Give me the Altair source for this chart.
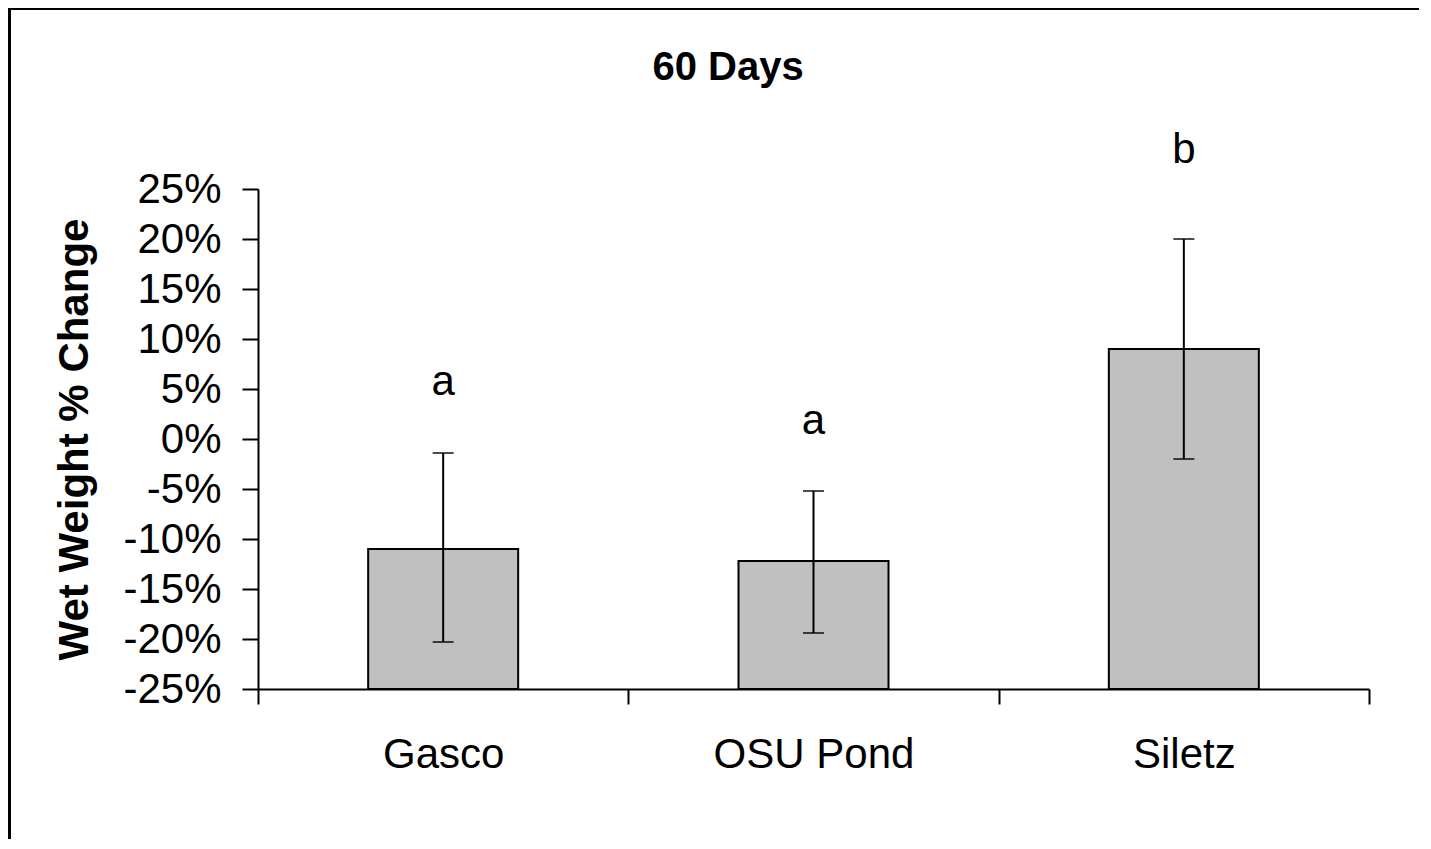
import altair as alt
import pandas as pd

# ---- data ----
sites = ["Gasco", "OSU Pond", "Siletz"]
means = [-11.0, -12.2, 9.0]          # % change (bar tops)
err_low = [-20.3, -19.4, -2.0]       # lower error bar ends
err_high = [-1.4, -5.2, 20.0]        # upper error bar ends
letters = ["a", "a", "b"]            # significance groups
letter_pos = [4.4, 0.5, 27.6]        # baseline of the letters (in %)
y_ticks = [-25, -20, -15, -10, -5, 0, 5, 10, 15, 20, 25]
axis_min = -25
axis_max = 25
chart_title = ["60 Days"]

df = pd.DataFrame({
    "site": sites,
    "mean": means,
    "lo": err_low,
    "hi": err_high,
    "letter": letters,
    "lpos": letter_pos,
    "base": [axis_min] * len(sites),
})
title_df = pd.DataFrame({"title": chart_title})

FONT = "Liberation Sans"
W, H = 1111, 500
PAD = {"left": 250, "top": 181, "right": 50, "bottom": 150}

x_enc = alt.X(
    "site:N",
    sort=sites,
    scale=alt.Scale(paddingInner=0, paddingOuter=0),
    axis=alt.Axis(
        title=None,
        tickBand="extent",
        labelAngle=0,
        labelLimit=0,
        labelFont=FONT,
        labelFontSize=42,
        labelColor="black",
        labelPadding=30,
        tickSize=15,
        tickWidth=2,
        tickColor="black",
        domainColor="black",
        domainWidth=2,
    ),
)

y_scale = alt.Scale(domain=[axis_min, axis_max], nice=False, zero=False)
y_axis = alt.Axis(
    title="Wet Weight % Change",
    values=y_ticks,
    labelExpr="datum.value + '%'",
    labelFont=FONT,
    labelFontSize=42,
    labelColor="black",
    labelPadding=21,
    labelBaseline="middle",
    tickSize=16,
    tickWidth=2,
    tickColor="black",
    domainColor="black",
    domainWidth=2,
    grid=False,
    titleFont=FONT,
    titleFontSize=42,
    titleFontWeight="bold",
    titleColor="black",
    titleAngle=-90,
    titleX=-184,
    titleY=250,
    titleAlign="center",
    titleBaseline="middle",
)

base = alt.Chart(df)

bars = base.mark_bar(fill="#C0C0C0", stroke="black", strokeWidth=2, size=150).encode(
    x=x_enc,
    y=alt.Y("mean:Q", scale=y_scale, axis=y_axis),
    y2=alt.Y2("base:Q"),
)

err = base.mark_rule(color="black", strokeWidth=2).encode(
    x=x_enc,
    y=alt.Y("lo:Q", scale=y_scale, axis=y_axis),
    y2=alt.Y2("hi:Q"),
)

cap_lo = base.mark_tick(color="black", thickness=2, size=21).encode(
    x=x_enc,
    y=alt.Y("lo:Q", scale=y_scale, axis=y_axis),
)
cap_hi = base.mark_tick(color="black", thickness=2, size=21).encode(
    x=x_enc,
    y=alt.Y("hi:Q", scale=y_scale, axis=y_axis),
)

labels = base.mark_text(
    font=FONT, fontSize=42, color="black", baseline="alphabetic", align="center"
).encode(
    x=x_enc,
    y=alt.Y("lpos:Q", scale=y_scale, axis=y_axis),
    text="letter:N",
)

# chart title, centred on the slide rather than on the plot
title = alt.Chart(title_df).mark_text(
    font=FONT, fontSize=40, fontWeight="bold", color="black",
    baseline="alphabetic", align="center",
).encode(
    text="title:N",
    x=alt.value(470),
    y=alt.value(-109),
)

# slide frame lines (top and left)
frame_left = alt.Chart(title_df).mark_rule(color="black", strokeWidth=3).encode(
    x=alt.value(-PAD["left"] + 1.5),
    y=alt.value(-PAD["top"]),
    y2=alt.value(H + PAD["bottom"]),
)
frame_top = alt.Chart(title_df).mark_rule(color="black", strokeWidth=2).encode(
    x=alt.value(-PAD["left"]),
    x2=alt.value(W + PAD["right"]),
    y=alt.value(-PAD["top"] + 1),
)

chart = (
    alt.layer(bars, err, cap_lo, cap_hi, labels, title, frame_left, frame_top)
    .properties(
        width=W,
        height=H,
        padding=PAD,
        autosize=alt.AutoSizeParams(type="none"),
        background="white",
    )
    .configure_view(stroke=None)
)

chart.save("out.html", embed_options={"renderer": "svg", "actions": False})
